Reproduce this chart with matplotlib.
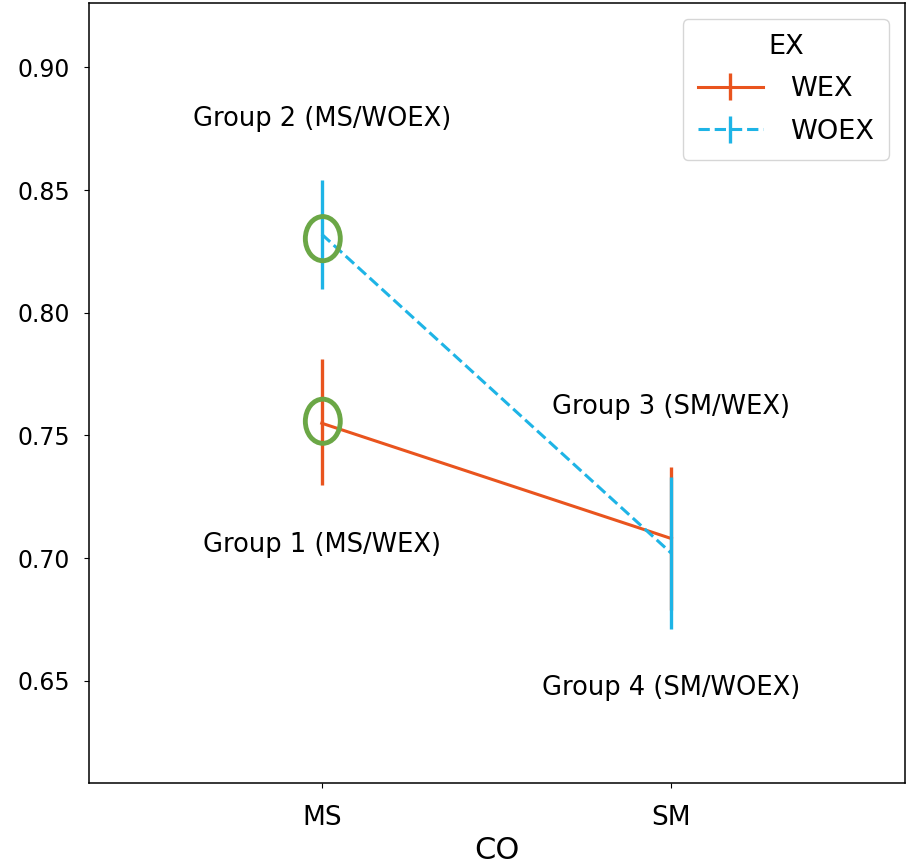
import numpy as np
import matplotlib
matplotlib.use('Agg')
import matplotlib.pyplot as plt
from matplotlib.patches import Ellipse

# group means and confidence bounds
categories = ['MS', 'SM']
wex_mean = [0.755, 0.708]
wex_lo = [0.730, 0.679]
wex_hi = [0.781, 0.737]
woex_mean = [0.832, 0.702]
woex_lo = [0.8095, 0.671]
woex_hi = [0.854, 0.733]

group_labels = ['Group 1 (MS/WEX)', 'Group 2 (MS/WOEX)', 'Group 3 (SM/WEX)', 'Group 4 (SM/WOEX)']

wex_color = '#E9541E'
woex_color = '#1EB4E6'
ring_color = '#6BA746'

fig = plt.figure(figsize=(9.09, 8.68), dpi=100)
ax = fig.add_axes([0.0974, 0.0979, 0.8982, 0.8986])

x = np.arange(len(categories))
wex_err = [np.array(wex_mean) - np.array(wex_lo), np.array(wex_hi) - np.array(wex_mean)]
woex_err = [np.array(woex_mean) - np.array(woex_lo), np.array(woex_hi) - np.array(woex_mean)]

eb1 = ax.errorbar(x, wex_mean, yerr=wex_err, color=wex_color, lw=2.2, elinewidth=2.4,
                  capsize=0, label='WEX', zorder=3)
eb2 = ax.errorbar(x, woex_mean, yerr=woex_err, color=woex_color, lw=2.2, elinewidth=2.4,
                  capsize=0, ls='--', label='WOEX', zorder=4)
# error bars stay solid
for eb in (eb1, eb2):
    for lc in eb[2]:
        lc.set_linestyle('-')

# highlight rings on the MS points
ax.add_patch(Ellipse((x[0] + 0.003, woex_mean[0] - 0.0018), 0.1, 0.018, fill=False,
                     ec=ring_color, lw=3.5, zorder=5))
ax.add_patch(Ellipse((x[0] + 0.003, wex_mean[0] + 0.0008), 0.1, 0.018, fill=False,
                     ec=ring_color, lw=3.5, zorder=5))

# group annotations
ax.text(x[0], 0.7053, group_labels[0], ha='center', va='center', fontsize=18.5)
ax.text(x[0], 0.8788, group_labels[1], ha='center', va='center', fontsize=18.5)
ax.text(x[1], 0.7618, group_labels[2], ha='center', va='center', fontsize=18.5)
ax.text(x[1], 0.6471, group_labels[3], ha='center', va='center', fontsize=18.5)

ax.set_xlim(-0.667, 1.668)
ax.set_ylim(0.6084, 0.9262)
ax.set_xticks(x)
ax.set_xticklabels(categories, fontsize=19)
ax.set_yticks([0.65, 0.70, 0.75, 0.80, 0.85, 0.90])
ax.set_yticklabels(['0.65', '0.70', '0.75', '0.80', '0.85', '0.90'], fontsize=17)
ax.tick_params(axis='x', pad=12)
ax.tick_params(axis='y', pad=10)
ax.set_xlabel('CO', fontsize=22, labelpad=4)
for s in ax.spines.values():
    s.set_linewidth(1.1)

leg = ax.legend(title='EX', loc='upper right', fontsize=19.5, title_fontsize=19.5,
                handlelength=2.4, handletextpad=1.0, labelspacing=0.6,
                borderpad=0.55, borderaxespad=0.6)

fig.savefig('out.png', dpi=100)
